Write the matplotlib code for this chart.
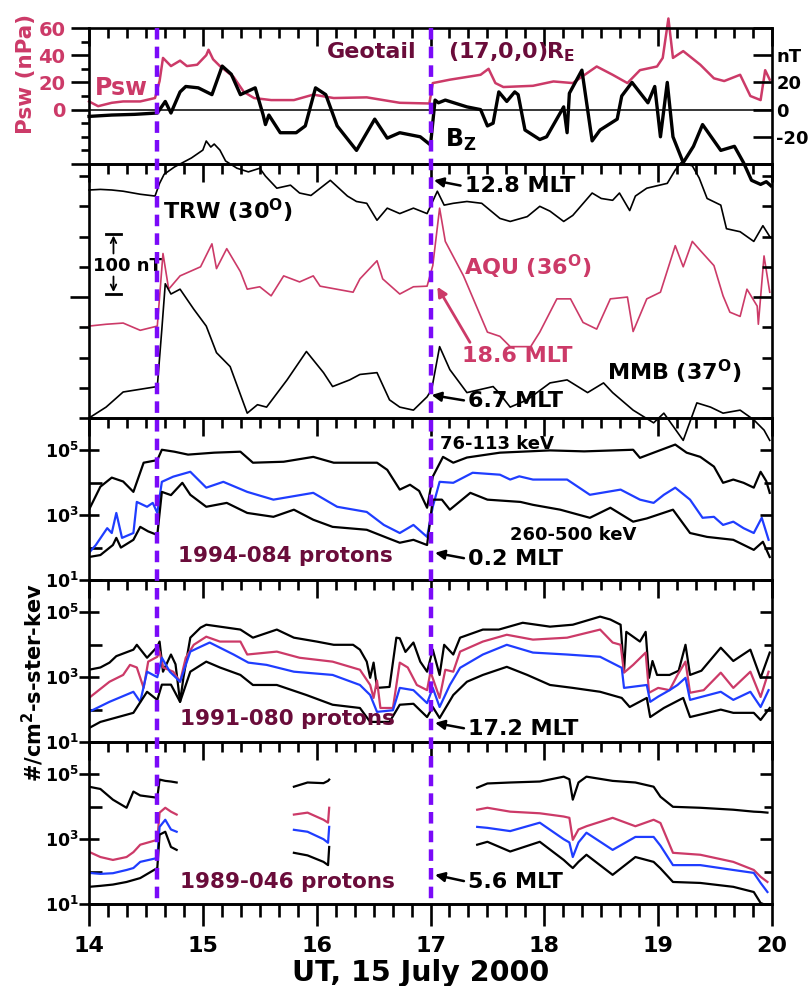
import numpy as np
import matplotlib
matplotlib.use('Agg')
import matplotlib.pyplot as plt
from matplotlib.lines import Line2D
from matplotlib.transforms import blended_transform_factory
from matplotlib.ticker import FixedLocator, FixedFormatter, NullFormatter

plt.rcParams['font.family'] = ['DejaVu Sans']
plt.rcParams['font.weight'] = 'bold'
plt.rcParams['axes.labelweight'] = 'bold'
plt.rcParams['mathtext.fontset'] = 'custom'
for k in ['rm', 'it', 'bf', 'sf']:
    plt.rcParams['mathtext.' + k] = 'DejaVu Sans:bold'
plt.rcParams['mathtext.default'] = 'rm'

CRIMSON = '#CC3A68'
MAROON = '#6A0C3A'
BLUE = '#1F3DFF'
PURPLE = '#7A0AF8'

# ---------------- data ----------------
# x axis
hour_ticks = [14, 15, 16, 17, 18, 19, 20]
hour_labels = ['14', '15', '16', '17', '18', '19', '20']
event_times = [14.6, 17.0]

# Panel 1: Geotail solar wind pressure (nPa) and Bz (nT)
psw_t = [14.0, 14.08, 14.2, 14.3, 14.45, 14.58, 14.62, 14.65, 14.72, 14.8, 14.86, 14.95, 15.03, 15.05,
         15.09, 15.15, 15.27, 15.36, 15.45, 15.6, 15.8, 15.97, 16.15, 16.44, 16.73, 16.99, 17.02, 17.17,
         17.44, 17.51, 17.57, 17.64, 17.9, 18.08, 18.25, 18.46, 18.6, 18.73, 18.84, 18.99, 19.04, 19.09,
         19.13, 19.22, 19.37, 19.49, 19.58, 19.72, 19.81, 19.9, 19.94, 19.98]
psw = [6, 2.5, 5, 6, 6, 8.5, 21, 38, 32, 36, 32, 33, 40, 44,
       37, 32, 24, 13, 8.5, 7, 7, 11, 8.5, 9, 5, 4.5, 19.5, 22,
       25.6, 30, 19.5, 16.6, 17.5, 20.7, 19.5, 31.7, 25.6, 19.5, 29, 31.7, 38, 67,
       38, 43, 33, 23, 21, 25.6, 10, 7, 29, 22]
bz_t = [14.0, 14.2, 14.4, 14.6, 14.67, 14.72, 14.8, 14.85, 14.96, 15.08, 15.17, 15.25, 15.33, 15.46,
        15.53, 15.55, 15.58, 15.68, 15.82, 15.9, 15.99, 16.08, 16.18, 16.35, 16.51, 16.62, 16.73, 16.91,
        17.0, 17.04, 17.07, 17.13, 17.32, 17.44, 17.5, 17.55, 17.6, 17.67, 17.74, 17.77, 17.83, 17.96,
        18.02, 18.17, 18.2, 18.22, 18.33, 18.42, 18.49, 18.64, 18.68, 18.77, 18.91, 18.97, 19.02, 19.08,
        19.13, 19.22, 19.31, 19.39, 19.55, 19.67, 19.75, 19.82, 19.9, 19.95, 19.99]
bz = [-5, -4, -3.5, -2.5, 6, -2.5, 13, 17, 16, 11, 32, 26, 11, 16,
      -4, -11, -4, -17, -17, -12, 16, 11, -12, -30, -7, -21, -17, -20,
      -26, 7, 5, 7, 2, 0, -12, -10, 13, 6, 13, 11, -15, -22,
      -20, 2, -17, 12, 29, -23, -15, -7, 10, 20, 5, 17, -20, 20,
      -20, -39, -27, -11, -30, -27, -39, -52, -55, -53, -56]

# Panel 2: ground magnetometers H (nT, offset)
trw_t = [14.0, 14.1, 14.2, 14.3, 14.45, 14.58, 14.62, 14.66, 14.75, 14.8, 14.9, 15.0, 15.03, 15.07,
         15.1, 15.15, 15.2, 15.3, 15.4, 15.5, 15.55, 15.65, 15.77, 15.85, 15.95, 16.12, 16.27, 16.35,
         16.44, 16.53, 16.62, 16.73, 16.85, 16.97, 17.06, 17.12, 17.2, 17.32, 17.45, 17.61, 17.7, 17.85,
         17.96, 18.05, 18.17, 18.25, 18.42, 18.5, 18.6, 18.66, 18.75, 18.8, 18.9, 19.08, 19.15, 19.2,
         19.3, 19.36, 19.43, 19.55, 19.6, 19.72, 19.84, 19.92, 19.98]
trw = [377, 378, 377, 375, 370, 367, 388, 403, 415, 420, 430, 443, 458, 448,
       453, 443, 425, 413, 407, 413, 400, 380, 385, 372, 368, 393, 367, 358,
       355, 327, 347, 338, 347, 338, 375, 352, 355, 358, 355, 330, 325, 333,
       350, 342, 325, 335, 372, 363, 360, 372, 343, 367, 380, 388, 410, 422,
       417, 397, 363, 352, 313, 308, 292, 318, 300]
aqu_t = [14.0, 14.15, 14.3, 14.45, 14.6, 14.65, 14.7, 14.8, 14.98, 15.08, 15.12, 15.21, 15.33, 15.39,
         15.5, 15.6, 15.71, 15.85, 15.97, 16.03, 16.32, 16.38, 16.53, 16.58, 16.73, 16.85, 16.97, 17.02,
         17.08, 17.13, 17.29, 17.5, 17.61, 17.7, 17.88, 17.96, 18.11, 18.23, 18.34, 18.46, 18.58, 18.73,
         18.78, 18.9, 19.02, 19.15, 19.22, 19.3, 19.37, 19.49, 19.57, 19.63, 19.72, 19.78, 19.87, 19.88,
         19.93, 19.98]
aqu = [152, 155, 157, 145, 152, 272, 213, 235, 250, 288, 247, 280, 242, 213,
       217, 202, 235, 225, 235, 218, 208, 230, 260, 230, 205, 217, 218, 252,
       347, 292, 235, 142, 135, 118, 118, 142, 197, 197, 158, 147, 197, 200,
       143, 197, 208, 285, 250, 292, 277, 252, 202, 175, 168, 213, 185, 155,
       268, 208]
mmb_t = [14.0, 14.15, 14.3, 14.6, 14.64, 14.67, 14.72, 14.8, 14.92, 15.03, 15.12, 15.24, 15.39, 15.48,
         15.56, 15.74, 15.91, 16.06, 16.14, 16.29, 16.38, 16.53, 16.64, 16.73, 16.85, 16.97, 17.01, 17.08,
         17.17, 17.32, 17.55, 17.6, 17.7, 17.85, 18.05, 18.2, 18.38, 18.52, 18.6, 18.78, 18.96, 19.05,
         19.22, 19.34, 19.46, 19.57, 19.72, 19.84, 19.93, 19.98]
mmb = [0, 18, 43, 52, 147, 222, 205, 213, 180, 152, 108, 85, 8, 22,
       18, 63, 110, 75, 52, 63, 72, 75, 30, 18, 13, 35, 47, 118,
       80, 42, 52, 42, 18, 30, 58, 63, 42, 58, 42, 13, -8, 8,
       -37, 25, 18, 8, 13, -3, -20, -37]

# Panel 3: 1994-084 proton flux, log10(#/cm2-s-ster-keV)
p94_hi_t = [14.0, 14.1, 14.2, 14.3, 14.39, 14.48, 14.6, 14.64, 14.75, 14.87, 15.1, 15.33, 15.44, 15.71,
            15.97, 16.15, 16.53, 16.62, 16.73, 16.82, 16.9, 16.97, 17.02, 17.11, 17.2, 17.32, 17.61, 18.05,
            18.35, 18.78, 18.84, 18.96, 19.15, 19.25, 19.37, 19.49, 19.57, 19.66, 19.75, 19.84, 19.9, 19.95,
            19.98]
p94_hi = [3.17, 3.88, 4.16, 4.04, 3.72, 4.62, 4.7, 5.02, 4.96, 4.87, 4.93, 4.96, 4.62, 4.65,
          4.8, 4.62, 4.62, 4.4, 3.79, 3.94, 3.75, 3.23, 4.19, 4.8, 4.62, 4.78, 4.93, 5.0,
          4.97, 5.02, 4.77, 4.93, 5.18, 4.93, 4.8, 4.5, 4.0, 4.1, 4.0, 3.85, 4.34, 4.05,
          3.69]
p94_mid_t = [14.0, 14.06, 14.16, 14.2, 14.24, 14.29, 14.39, 14.42, 14.51, 14.56, 14.6, 14.64, 14.74, 14.89,
             15.03, 15.18, 15.39, 15.62, 15.97, 16.18, 16.44, 16.59, 16.73, 16.85, 16.97, 17.02, 17.08, 17.2,
             17.37, 17.61, 17.7, 17.78, 17.9, 18.2, 18.4, 18.67, 18.84, 18.96, 19.05, 19.15, 19.28, 19.39,
             19.49, 19.57, 19.66, 19.75, 19.84, 19.91, 19.97]
p94_mid = [1.84, 2.08, 2.6, 2.45, 3.07, 2.3, 2.45, 3.41, 3.26, 3.38, 3.07, 4.03, 4.19, 4.34,
           3.85, 4.03, 3.72, 3.48, 3.69, 3.26, 3.1, 2.7, 2.45, 2.7, 2.33, 3.26, 4.03, 4.0,
           4.31, 4.25, 4.1, 4.2, 4.1, 4.1, 3.63, 3.79, 3.48, 3.38, 3.63, 3.85, 3.48, 2.92,
           2.95, 2.7, 2.8, 2.6, 2.45, 2.92, 2.24]
p94_lo_t = [14.0, 14.1, 14.21, 14.24, 14.28, 14.39, 14.45, 14.52, 14.6, 14.64, 14.72, 14.82, 14.89, 15.03,
            15.21, 15.39, 15.62, 15.8, 15.97, 16.14, 16.44, 16.62, 16.73, 16.85, 16.97, 17.02, 17.1, 17.17,
            17.35, 17.5, 17.79, 17.9, 18.14, 18.4, 18.58, 18.78, 18.9, 19.13, 19.28, 19.43, 19.66, 19.84,
            19.92, 19.98]
p94_lo = [1.71, 1.77, 2.08, 2.3, 2.0, 2.24, 2.64, 2.5, 2.39, 3.72, 3.62, 4.0, 3.63, 3.26,
          3.38, 3.07, 2.95, 3.17, 2.86, 2.64, 2.55, 2.3, 2.15, 2.24, 2.08, 3.48, 3.48, 3.17,
          3.69, 3.48, 3.41, 3.32, 3.17, 2.92, 3.23, 2.8, 2.9, 3.17, 2.45, 2.33, 2.24, 1.93,
          2.18, 1.71]

# Panel 4: 1991-080 proton flux, log10
p91_a_t = [14.0, 14.1, 14.18, 14.24, 14.39, 14.42, 14.51, 14.6, 14.62, 14.65, 14.72, 14.76, 14.8, 14.83,
           14.89, 14.98, 15.03, 15.15, 15.33, 15.44, 15.65, 15.8, 16.0, 16.15, 16.32, 16.38, 16.44, 16.47,
           16.5, 16.53, 16.64, 16.7, 16.73, 16.78, 16.85, 16.91, 16.97, 17.02, 17.08, 17.12, 17.2, 17.26,
           17.46, 17.6, 17.81, 18.05, 18.25, 18.49, 18.58, 18.67, 18.7, 18.72, 18.84, 18.89, 18.92, 18.95,
           18.99, 19.1, 19.18, 19.24, 19.28, 19.38, 19.55, 19.66, 19.81, 19.9, 19.98]
p91_a = [3.23, 3.3, 3.45, 3.65, 3.85, 4.0, 3.6, 3.94, 4.1, 3.17, 3.7, 3.4, 2.24, 3.0,
         4.22, 4.53, 4.62, 4.56, 4.47, 4.22, 4.47, 4.22, 4.1, 4.0, 4.0, 3.85, 3.48, 2.98,
         3.45, 2.67, 2.7, 4.22, 4.2, 3.78, 4.07, 3.48, 3.17, 3.85, 3.07, 4.0, 3.7, 4.22,
         4.47, 4.47, 4.68, 4.56, 4.62, 4.87, 4.78, 4.62, 3.17, 4.4, 4.1, 4.4, 2.98, 3.5,
         3.07, 3.07, 3.2, 4.0, 3.07, 3.2, 3.91, 3.5, 3.85, 2.98, 3.76]
p91_b_t = [14.0, 14.18, 14.3, 14.36, 14.42, 14.48, 14.52, 14.6, 14.62, 14.65, 14.74, 14.8, 14.85, 14.92,
           15.03, 15.15, 15.33, 15.39, 15.65, 15.85, 16.14, 16.38, 16.47, 16.5, 16.53, 16.56, 16.67, 16.73,
           16.8, 16.88, 16.97, 17.0, 17.08, 17.13, 17.2, 17.26, 17.46, 17.67, 17.9, 18.2, 18.49, 18.6,
           18.67, 18.7, 18.78, 18.89, 18.92, 19.0, 19.1, 19.17, 19.24, 19.28, 19.4, 19.55, 19.66, 19.81,
           19.9, 19.97]
p91_b = [2.36, 2.86, 3.07, 3.38, 3.3, 2.67, 3.48, 3.63, 3.79, 3.3, 3.17, 2.86, 3.6, 4.0,
         4.25, 4.1, 4.1, 3.7, 3.79, 3.6, 3.48, 3.23, 2.76, 2.36, 2.9, 2.05, 2.05, 3.45,
         3.3, 2.76, 2.6, 3.17, 2.36, 3.23, 3.17, 3.79, 4.1, 4.31, 4.16, 4.22, 4.47, 4.07,
         4.0, 3.14, 3.38, 3.76, 2.52, 2.67, 2.6, 3.07, 3.48, 2.52, 2.6, 3.14, 2.67, 3.17,
         2.39, 3.17]
p91_c_t = [14.0, 14.18, 14.39, 14.45, 14.51, 14.6, 14.64, 14.71, 14.8, 14.89, 14.98, 15.06, 15.27, 15.4,
           15.56, 15.8, 16.14, 16.38, 16.47, 16.53, 16.67, 16.73, 16.85, 16.97, 17.02, 17.08, 17.17, 17.26,
           17.46, 17.67, 17.9, 18.2, 18.49, 18.68, 18.7, 18.9, 18.93, 19.0, 19.1, 19.17, 19.24, 19.28,
           19.55, 19.66, 19.81, 19.9, 19.97]
p91_c = [1.93, 2.24, 2.55, 2.24, 3.17, 3.0, 3.6, 3.17, 2.86, 3.79, 3.94, 4.07, 3.7, 3.45,
         3.38, 3.17, 3.07, 2.76, 2.45, 1.93, 1.98, 2.67, 2.6, 2.2, 2.67, 2.08, 2.76, 3.29,
         3.7, 4.0, 3.76, 3.7, 3.63, 3.29, 2.67, 2.76, 2.24, 2.4, 2.6, 2.76, 2.98, 2.3,
         2.55, 2.3, 2.55, 2.08, 2.6]
p91_d_t = [14.0, 14.1, 14.39, 14.51, 14.6, 14.64, 14.72, 14.8, 14.89, 15.03, 15.15, 15.33, 15.44, 15.65,
           15.91, 16.14, 16.38, 16.47, 16.64, 16.73, 16.85, 16.97, 17.02, 17.08, 17.2, 17.32, 17.46, 17.67,
           17.85, 18.05, 18.25, 18.49, 18.68, 18.75, 18.9, 18.93, 19.05, 19.22, 19.28, 19.55, 19.66, 19.84,
           19.9, 19.98]
p91_d = [1.43, 1.62, 1.9, 2.55, 2.3, 2.77, 2.77, 2.24, 3.17, 3.48, 3.3, 3.07, 2.76, 2.76,
         2.45, 2.15, 2.05, 1.62, 1.62, 2.15, 2.18, 1.77, 2.08, 1.74, 2.45, 2.86, 3.07, 3.32,
         3.07, 2.76, 2.67, 2.55, 2.36, 2.08, 2.36, 1.77, 2.05, 2.36, 1.77, 2.0, 1.9, 1.9,
         1.68, 2.05]

# Panel 5: 1989-046 proton flux, log10 (NaN = data gap)
p89_t = [14.0, 14.1, 14.21, 14.33, 14.39, 14.45, 14.6, 14.62, 14.67, 14.72, 14.77, 14.78,
         15.8, 15.92, 16.06, 16.1, 16.11, 16.12,
         17.41, 17.5, 17.7, 17.96, 18.17, 18.22, 18.25, 18.3, 18.37, 18.6, 18.8, 18.96, 19.02,
         19.13, 19.37, 19.66, 19.84, 19.9, 19.96]
p89_a = [4.62, 4.55, 4.22, 3.97, 4.47, 4.35, 4.28, 4.84, 4.8, 4.78, 4.75, np.nan,
         4.62, 4.75, 4.73, 4.8, 4.84, np.nan,
         4.59, 4.72, 4.75, 4.78, 4.93, 4.85, 4.22, 4.75, 4.93, 4.8, 4.75, 4.62, 4.31,
         4.0, 3.97, 3.91, 3.85, 3.84, 3.82]
p89_b = [2.61, 2.45, 2.36, 2.45, 2.6, 2.83, 2.98, 3.82, 3.97, 3.85, 3.76, np.nan,
         3.76, 3.82, 3.6, 3.51, 3.97, np.nan,
         3.91, 3.97, 3.85, 3.8, 3.7, 3.66, 2.98, 3.3, 3.4, 3.66, 3.4, 3.6, 3.5,
         2.58, 2.52, 2.3, 2.05, 1.84, 1.68]
p89_c = [1.96, 1.93, 1.95, 2.05, 2.11, 2.3, 2.42, 3.38, 3.6, 3.3, 3.23, np.nan,
         3.29, 3.23, 3.0, 2.89, 3.38, np.nan,
         3.38, 3.35, 3.25, 3.51, 3.0, 2.9, 2.45, 2.9, 3.2, 2.67, 3.07, 3.07, 2.8,
         2.2, 2.2, 2.05, 1.96, 1.65, 1.37]
p89_d = [1.53, 1.56, 1.6, 1.68, 1.74, 1.8, 2.11, 3.14, 3.23, 2.76, 2.67, np.nan,
         2.58, 2.5, 2.3, 2.2, 2.76, np.nan,
         2.83, 2.92, 2.62, 2.92, 2.36, 2.2, 2.11, 2.3, 2.52, 1.9, 2.45, 2.3, 2.1,
         1.68, 1.65, 1.53, 1.37, 1.03, 0.95]

# ---------------- figure ----------------
W, H = 809, 986
fig = plt.figure(figsize=(W / 100, H / 100), dpi=100)
LX, RX = 89, 772


def rect(top, bot):
    return [LX / W, 1 - bot / H, (RX - LX) / W, (bot - top) / H]


SPW = 1.9
TXT = 16
minor_x = np.arange(14, 20.0001, 1 / 6)


def style_axes(ax):
    ax.set_xlim(14, 20)
    ax.xaxis.set_major_locator(FixedLocator(hour_ticks))
    ax.xaxis.set_minor_locator(FixedLocator(minor_x))
    ax.tick_params(axis='x', which='both', direction='in', top=True, bottom=False,
                   labelbottom=False, labeltop=False, width=SPW)
    ax.tick_params(axis='x', which='major', length=13)
    ax.tick_params(axis='x', which='minor', length=7.5)
    for s in ax.spines.values():
        s.set_linewidth(SPW)
    ax.patch.set_visible(False)


def make_twin(ax):
    t = ax.twinx()
    t.patch.set_visible(False)
    for s in t.spines.values():
        s.set_visible(False)
    return t


ax1 = fig.add_axes(rect(28, 164))
ax2 = fig.add_axes(rect(164, 418))
ax3 = fig.add_axes(rect(418, 580))
ax4 = fig.add_axes(rect(580, 742))
ax5 = fig.add_axes(rect(742, 904))
ax2.set_zorder(5)

twins = [make_twin(a) for a in (ax1, ax2, ax3, ax4, ax5)]
for a in (ax1, ax2, ax3, ax4, ax5):
    style_axes(a)

# ----- Panel 1 -----
ax1.set_ylim(-40, 60)
ax1.axhline(0, color='black', lw=1.1, zorder=1)
ax1.plot(psw_t, psw, color=CRIMSON, lw=1.8, clip_on=False, zorder=2)
ax1.plot(bz_t, bz, color='black', lw=2.4, clip_on=False, zorder=3)
ax1.yaxis.set_major_locator(FixedLocator([-40, 0, 20, 40, 60]))
ax1.yaxis.set_major_formatter(FixedFormatter(['', '0', '20', '40', '60']))
ax1.yaxis.set_minor_locator(FixedLocator([-30, -20, -10, 10, 30, 50]))
ax1.tick_params(axis='y', which='major', direction='out', length=13, width=SPW,
                labelsize=14, labelcolor=CRIMSON, pad=4, right=False)
ax1.tick_params(axis='y', which='minor', direction='out', length=6, width=SPW, right=False)
t1 = twins[0]
t1.set_ylim(-40, 60)
t1.yaxis.set_major_locator(FixedLocator([-40, -20, 0, 20, 40, 60]))
t1.yaxis.set_major_formatter(FixedFormatter(['', '-20', '0', '20', 'nT', '']))
t1.yaxis.set_minor_locator(FixedLocator([]))
t1.tick_params(axis='y', which='major', direction='in', length=14, width=SPW, labelsize=13, pad=3)
ax1.set_ylabel('Psw (nPa)', color=CRIMSON, fontsize=15.5, fontweight='bold')
ax1.yaxis.set_label_coords(-0.078, 0.66)

ax1.text(14.05, 16, 'Psw', color=CRIMSON, fontsize=17, ha='left', va='center')
ax1.text(16.09, 42, 'Geotail', color=MAROON, fontsize=TXT, ha='left', va='center')
ax1.text(17.15, 42, '(17,0,0)R$_{E}$', color=MAROON, fontsize=TXT, ha='left', va='center')
ax1.text(17.13, -22, 'B$_{Z}$', color='black', fontsize=17, ha='left', va='center')

# ----- Panel 2 -----
ax2.set_ylim(0, 420)
ax2.plot(trw_t, trw, color='black', lw=1.2, clip_on=False)
ax2.plot(aqu_t, aqu, color=CRIMSON, lw=1.2, clip_on=False)
ax2.plot(mmb_t, mmb, color='black', lw=1.2, clip_on=False)
ytk2 = [0, 50, 100, 150, 200, 250, 300, 350, 400]
ax2.yaxis.set_major_locator(FixedLocator([200]))
ax2.yaxis.set_minor_locator(FixedLocator([y for y in ytk2 if y != 200]))
ax2.yaxis.set_major_formatter(NullFormatter())
ax2.tick_params(axis='y', which='major', direction='out', length=14, width=SPW, right=False)
ax2.tick_params(axis='y', which='minor', direction='out', length=7, width=SPW, right=False)
t2 = twins[1]
t2.set_ylim(0, 420)
t2.yaxis.set_major_locator(FixedLocator([200]))
t2.yaxis.set_minor_locator(FixedLocator([y for y in ytk2 if y != 200]))
t2.yaxis.set_major_formatter(NullFormatter())
t2.tick_params(axis='y', which='major', direction='in', length=14, width=SPW)
t2.tick_params(axis='y', which='minor', direction='in', length=7, width=SPW)

arw = dict(arrowstyle='-|>', lw=1.8, color='black', mutation_scale=14, shrinkA=1, shrinkB=0,
           relpos=(0, 0.5))
ax2.annotate('12.8 MLT', xy=(17.03, 393), xytext=(17.30, 383), fontsize=TXT, ha='left', va='center',
             arrowprops=arw, annotation_clip=False)
ax2.text(14.65, 342, 'TRW (30$^{O}$)', fontsize=TXT, ha='left', va='center')
ax2.text(17.29, 250, 'AQU (36$^{O}$)', fontsize=TXT, color=CRIMSON, ha='left', va='center')
arw_c = dict(arw)
arw_c.update(color=CRIMSON, relpos=(0.09, 1.0), lw=2.0)
ax2.annotate('18.6 MLT', xy=(17.06, 217), xytext=(17.28, 102), fontsize=TXT, color=CRIMSON,
             ha='left', va='center', arrowprops=arw_c)
ax2.text(18.55, 77, 'MMB (37$^{O}$)', fontsize=TXT, ha='left', va='center')
ax2.annotate('6.7 MLT', xy=(17.01, 38), xytext=(17.33, 28), fontsize=TXT, ha='left', va='center',
             arrowprops=arw)
# 100 nT scale bar
bx = 14.215
ax2.plot([bx - 0.07, bx + 0.07], [305, 305], color='black', lw=2.0)
ax2.plot([bx - 0.07, bx + 0.07], [205, 205], color='black', lw=2.0)
sb = dict(arrowstyle='->', lw=1.3, color='black', mutation_scale=10, shrinkA=0, shrinkB=1)
ax2.annotate('', xy=(bx, 304), xytext=(bx, 272), arrowprops=sb)
ax2.annotate('', xy=(bx, 206), xytext=(bx, 234), arrowprops=sb)
ax2.text(14.035, 252, '100 nT', fontsize=13, ha='left', va='center')


# ----- log panels -----
def style_log(ax, tw):
    for a in (ax, tw):
        a.set_yscale('log')
        a.set_ylim(10, 1e6)
        a.yaxis.set_major_locator(FixedLocator([1e1, 1e3, 1e5]))
        a.yaxis.set_minor_locator(FixedLocator([1e2, 1e4, 1e6]))
        a.yaxis.set_minor_formatter(NullFormatter())
    ax.yaxis.set_major_formatter(FixedFormatter(['$10^{1}$', '$10^{3}$', '$10^{5}$']))
    ax.tick_params(axis='y', which='major', direction='inout', length=14, width=SPW,
                   labelsize=12.5, pad=0, right=False)
    ax.tick_params(axis='y', which='minor', direction='in', length=9, width=SPW, right=False)
    tw.yaxis.set_major_formatter(NullFormatter())
    tw.tick_params(axis='y', which='major', direction='in', length=9, width=SPW)
    tw.tick_params(axis='y', which='minor', direction='in', length=6, width=SPW)


def pw(a):
    return np.power(10.0, np.asarray(a, dtype=float))


style_log(ax3, twins[2])
ax3.plot(p94_hi_t, pw(p94_hi), color='black', lw=1.6)
ax3.plot(p94_mid_t, pw(p94_mid), color=BLUE, lw=1.6)
ax3.plot(p94_lo_t, pw(p94_lo), color='black', lw=1.6)
ax3.text(17.08, pw(5.21), '76-113 keV', fontsize=13, ha='left', va='center')
ax3.text(17.70, pw(2.39), '260-500 keV', fontsize=13, ha='left', va='center')
ax3.text(14.78, pw(1.74), '1994-084 protons', fontsize=15.5, color=MAROON, ha='left', va='center')
ax3.annotate('0.2 MLT', xy=(17.04, pw(1.84)), xytext=(17.33, pw(1.65)), fontsize=TXT,
             ha='left', va='center', arrowprops=arw)

style_log(ax4, twins[3])
ax4.plot(p91_a_t, pw(p91_a), color='black', lw=1.6)
ax4.plot(p91_b_t, pw(p91_b), color=CRIMSON, lw=1.6)
ax4.plot(p91_c_t, pw(p91_c), color=BLUE, lw=1.6)
ax4.plot(p91_d_t, pw(p91_d), color='black', lw=1.6)
ax4.text(14.8, pw(1.71), '1991-080 protons', fontsize=15.5, color=MAROON, ha='left', va='center')
ax4.annotate('17.2 MLT', xy=(17.04, pw(1.59)), xytext=(17.33, pw(1.40)), fontsize=TXT,
             ha='left', va='center', arrowprops=arw)

style_log(ax5, twins[4])
ax5.plot(p89_t, pw(p89_a), color='black', lw=1.6)
ax5.plot(p89_t, pw(p89_b), color=CRIMSON, lw=1.6)
ax5.plot(p89_t, pw(p89_c), color=BLUE, lw=1.6)
ax5.plot(p89_t, pw(p89_d), color='black', lw=1.6)
ax5.text(14.8, pw(1.68), '1989-046 protons', fontsize=15.5, color=MAROON, ha='left', va='center')
ax5.annotate('5.6 MLT', xy=(17.04, pw(1.90)), xytext=(17.33, pw(1.68)), fontsize=TXT,
             ha='left', va='center', arrowprops=arw)

# bottom x axis
sec = ax5.secondary_xaxis('bottom')
sec.xaxis.set_major_locator(FixedLocator(hour_ticks))
sec.xaxis.set_major_formatter(FixedFormatter(hour_labels))
sec.xaxis.set_minor_locator(FixedLocator(minor_x))
sec.tick_params(axis='x', which='major', direction='out', length=16, width=SPW, labelsize=16, pad=7)
sec.tick_params(axis='x', which='minor', direction='out', length=9, width=SPW)
sec.spines['bottom'].set_linewidth(SPW)

fig.text(421 / W, 1 - 973 / H, 'UT, 15 July 2000', fontsize=20.5, ha='center', va='center')
fig.text(33 / W, 1 - 683 / H, '#/cm$^{2}$-s-ster-kev', fontsize=15, rotation=90,
         ha='center', va='center')

# purple dashed event lines spanning all panels
btr = blended_transform_factory(ax5.transData, fig.transFigure)
for te in event_times:
    ln = Line2D([te, te], [1 - 28 / H, 1 - 904 / H], transform=btr, color=PURPLE, lw=3.2,
                ls=(0, (2.6, 1.6)), zorder=20)
    fig.add_artist(ln)

fig.savefig('out.png', dpi=100)
